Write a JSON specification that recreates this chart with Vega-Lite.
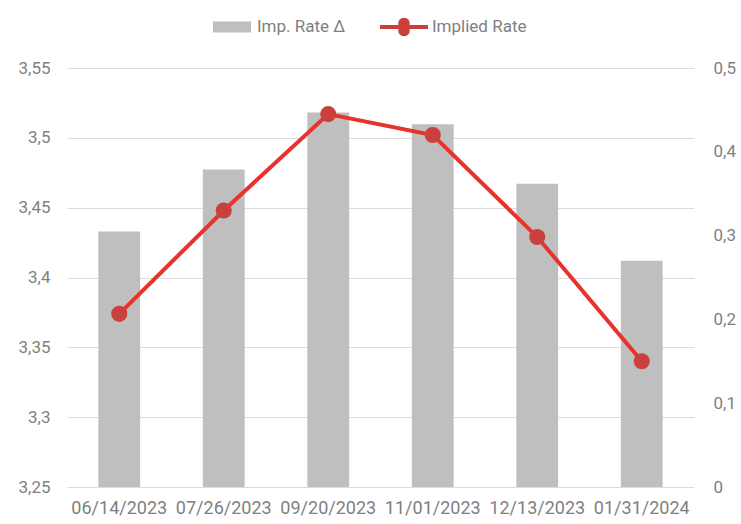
{
  "$schema": "https://vega.github.io/schema/vega-lite/v6.json",
  "width": 627,
  "height": 419,
  "autosize": "none",
  "padding": {"left": 67, "top": 68, "right": 47, "bottom": 37},
  "background": "white",
  "config": {
    "view": {"stroke": null},
    "font": "Roboto",
    "axis": {"labelFont": "Roboto", "labelColor": "#7f7f7f", "labelFontSize": 17, "domain": false, "ticks": false, "title": null},
    "legend": {"labelFont": "Roboto", "labelColor": "#7f7f7f", "labelFontSize": 17}
  },
  "data": {
    "values": [
      {"date": "06/14/2023", "delta": 0.305, "rate": 3.374},
      {"date": "07/26/2023", "delta": 0.379, "rate": 3.448},
      {"date": "09/20/2023", "delta": 0.447, "rate": 3.517},
      {"date": "11/01/2023", "delta": 0.433, "rate": 3.502},
      {"date": "12/13/2023", "delta": 0.362, "rate": 3.429},
      {"date": "01/31/2024", "delta": 0.27, "rate": 3.34}
    ]
  },
  "encoding": {
    "x": {
      "field": "date", "type": "ordinal", "sort": null,
      "scale": {"paddingInner": 0.6, "paddingOuter": 0.3},
      "axis": {"labelAngle": 0, "labelPadding": 12, "grid": false, "domain": false, "labelFontSize": 18}
    }
  },
  "layer": [
    {
      "mark": {"type": "bar", "color": "#bfbfbf"},
      "encoding": {
        "y": {
          "field": "delta", "type": "quantitative",
          "scale": {"domain": [0, 0.5], "nice": false, "zero": true},
          "axis": {"orient": "right", "values": [0, 0.1, 0.2, 0.3, 0.4, 0.5], "grid": false, "labelPadding": 19, "labelExpr": "replace(format(datum.value, '~g'), '.', ',')"}
        },
        "fill": {
          "datum": "Imp. Rate Δ",
          "scale": {"range": ["#bfbfbf"]},
          "legend": {"orient": "none", "legendX": 146, "legendY": -60, "title": null, "symbolType": "M-1,-0.29H1V0.29H-1Z", "symbolSize": 1444, "symbolStrokeWidth": 0, "labelOffset": 6}
        }
      }
    },
    {
      "mark": {"type": "line", "color": "#e8322d", "strokeWidth": 4},
      "encoding": {
        "y": {
          "field": "rate", "type": "quantitative",
          "scale": {"domain": [3.25, 3.55], "nice": false, "zero": false},
          "axis": {"orient": "left", "values": [3.25, 3.3, 3.35, 3.4, 3.45, 3.5, 3.55], "grid": true, "gridColor": "#dcdcdc", "gridWidth": 1.2, "labelPadding": 17, "labelExpr": "replace(format(datum.value, '~g'), '.', ',')"}
        }
      }
    },
    {
      "mark": {"type": "point", "filled": true, "color": "#c9403c", "size": 260, "opacity": 1},
      "encoding": {
        "y": {"field": "rate", "type": "quantitative", "scale": {"domain": [3.25, 3.55], "nice": false, "zero": false}, "axis": null},
        "fill": {
          "datum": "Implied Rate",
          "scale": {"range": ["#c9403c"]},
          "legend": {"orient": "none", "legendX": 313, "legendY": -65, "title": null, "symbolType": "M-1,-0.08H-0.23A0.24,0.24 0 1 1 0.23,-0.08H1V0.08H0.23A0.24,0.24 0 1 1 -0.23,0.08H-1Z", "symbolSize": 2304, "symbolFillColor": "#e8322d", "symbolStrokeWidth": 0, "symbolOpacity": 1, "labelOffset": 4}
        }
      }
    }
  ],
  "resolve": {"scale": {"y": "independent", "fill": "independent"}}
}
